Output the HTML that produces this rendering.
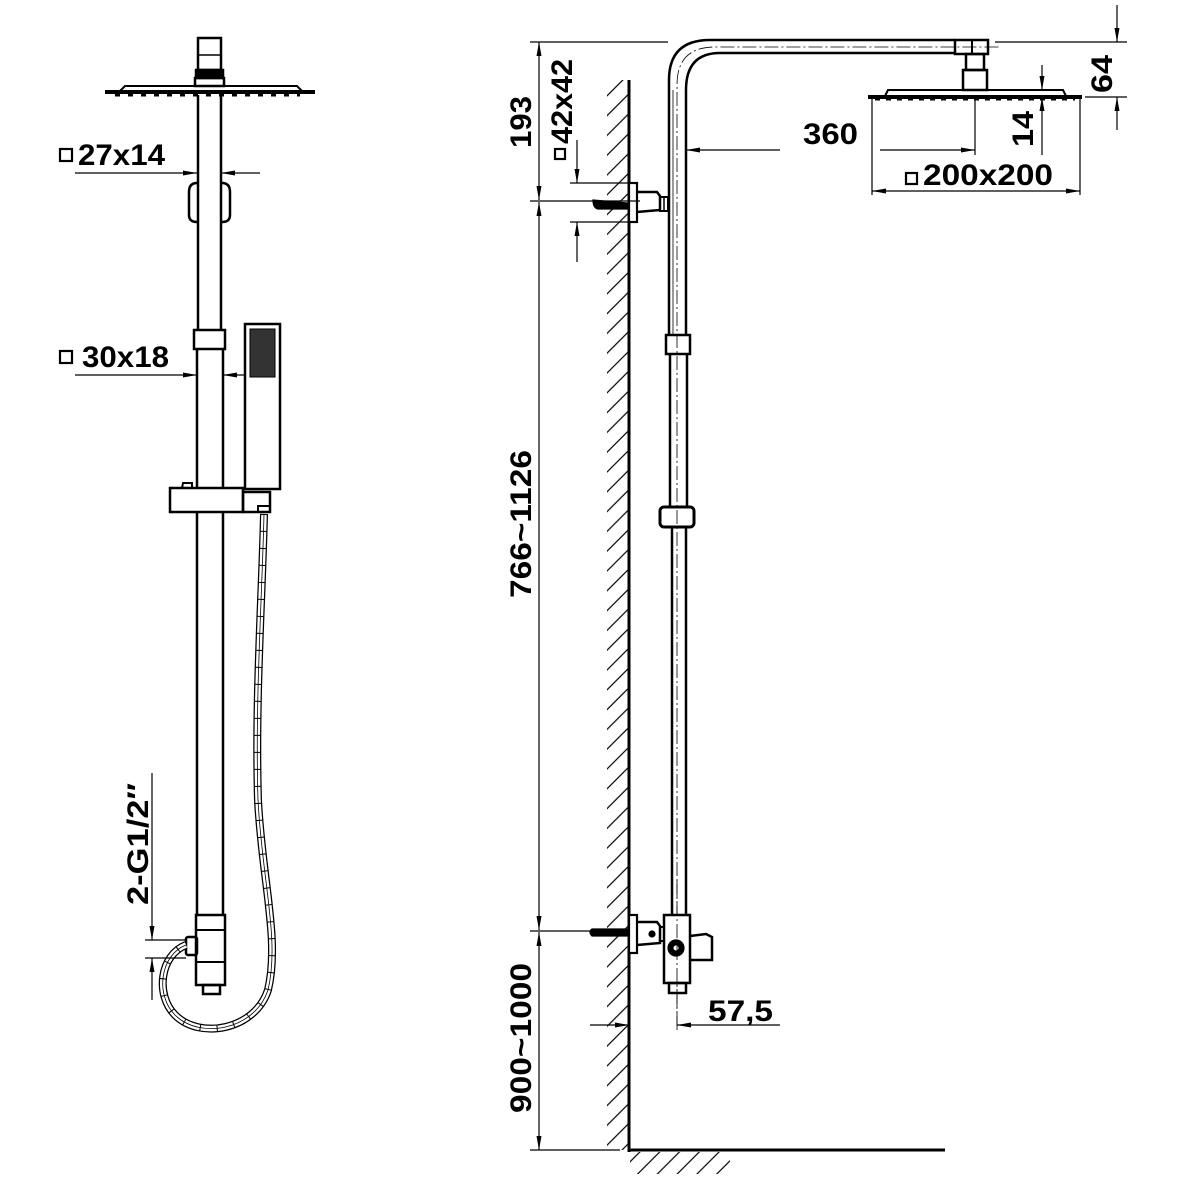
<!DOCTYPE html>
<html><head><meta charset="utf-8"><style>
html,body{margin:0;padding:0;background:#fff}
svg{display:block}
text{font-family:"Liberation Sans",sans-serif;font-weight:bold;fill:#000}
</style></head><body>
<svg width="1182" height="1182" viewBox="0 0 1182 1182" xmlns="http://www.w3.org/2000/svg">
<defs>
<marker id="a" markerWidth="14" markerHeight="8" refX="14" refY="4" orient="auto" markerUnits="userSpaceOnUse"><path d="M0,1.5 L14,4 L0,6.5Z" fill="#000"/></marker>
<pattern id="hv" width="14" height="14" patternUnits="userSpaceOnUse" patternTransform="rotate(-45)"><path d="M0,7 L14,7" stroke="#000" stroke-width="1.2"/></pattern>
</defs>
<g stroke="#000" fill="none" stroke-width="1.2">

<rect x="198" y="38" width="23" height="32" stroke-width="2.5"/>
<line x1="198" y1="55" x2="221" y2="55" stroke-width="1.5"/>
<rect x="196" y="70" width="27" height="8" stroke-width="2.5" fill="#000"/>
<rect x="195" y="78" width="29" height="8" stroke-width="2.5"/>
<path d="M105,92 L315,92" stroke-width="4"/>
<path d="M120,91 L125,86 L297,86 L302,91" stroke-width="2"/>
<path d="M115,95 L300,95" stroke="#000" stroke-width="3" stroke-dasharray="5 8"/>
<line x1="198" y1="95" x2="198" y2="330" stroke-width="2.5"/>
<line x1="221" y1="95" x2="221" y2="330" stroke-width="2.5"/>
<path d="M197,183 Q189,183 189,192 L189,215 Q189,222 197,222" stroke-width="2.5"/>
<path d="M222,183 Q230,183 230,192 L230,215 Q230,222 222,222" stroke-width="2.5"/>
<rect x="194" y="330" width="31" height="19" stroke-width="2.5"/>
<line x1="197" y1="349" x2="197" y2="488" stroke-width="2.5"/>
<line x1="223" y1="349" x2="223" y2="488" stroke-width="2.5"/>
<rect x="245" y="324" width="35" height="165" stroke-width="2.5"/>
<rect x="250" y="329" width="25" height="48" fill="#333" stroke-width="1"/>
<rect x="170" y="488" width="73" height="24" stroke-width="2.5"/>
<rect x="243" y="492" width="27" height="20" stroke-width="2.5"/>
<path d="M182,488 L183,483 L192,483 L192,488" stroke-width="2"/>
<rect x="258" y="506" width="12" height="6" stroke-width="2"/>
<line x1="197" y1="512" x2="197" y2="915" stroke-width="2.5"/>
<line x1="223" y1="512" x2="223" y2="915" stroke-width="2.5"/>
<rect x="196" y="915" width="29" height="70" stroke-width="2.5"/>
<line x1="196" y1="930" x2="225" y2="930" stroke-width="2"/>
<line x1="196" y1="962" x2="225" y2="962" stroke-width="2"/>
<rect x="186" y="937" width="11" height="18" stroke-width="2.5" rx="2"/>
<rect x="203" y="985" width="17" height="9" stroke-width="2.5"/>
<path d="M264,514 C262,600 255,700 258,800 C262,880 280,940 268,990 C255,1030 200,1040 175,1015 C155,995 160,955 186,945" stroke-width="8"/>
<path d="M264,514 C262,600 255,700 258,800 C262,880 280,940 268,990 C255,1030 200,1040 175,1015 C155,995 160,955 186,945" stroke="#fff" stroke-width="5.5"/>
<path d="M264,514 C262,600 255,700 258,800 C262,880 280,940 268,990 C255,1030 200,1040 175,1015 C155,995 160,955 186,945" stroke-width="7" stroke-dasharray="1 16"/>
<path d="M264,514 C262,600 255,700 258,800 C262,880 280,940 268,990 C255,1030 200,1040 175,1015 C155,995 160,955 186,945" stroke-width="0.8"/>

<line x1="75" y1="173" x2="197" y2="173" marker-end="url(#a)"/>
<line x1="260" y1="173" x2="221" y2="173" marker-end="url(#a)"/>
<line x1="75" y1="375" x2="197" y2="375" marker-end="url(#a)"/>
<line x1="245" y1="375" x2="223" y2="375" marker-end="url(#a)"/>
<line x1="152" y1="773" x2="152" y2="940" marker-end="url(#a)"/>
<line x1="152" y1="1000" x2="152" y2="958" marker-end="url(#a)"/>
<line x1="145" y1="940" x2="186" y2="940"/>
<line x1="145" y1="958" x2="186" y2="958"/>
<rect x="60" y="149" width="12" height="12" stroke-width="2.2"/>
<rect x="60" y="351" width="12" height="12" stroke-width="2.2"/>

<rect x="607" y="80" width="22" height="1070" fill="url(#hv)" stroke="none"/>
<line x1="629" y1="80" x2="629" y2="1152" stroke-width="3"/>
<line x1="629" y1="1150" x2="945" y2="1150" stroke-width="3"/>
<rect x="630" y="1152" width="100" height="22" fill="url(#hv)" stroke="none"/>
<path d="M669,335 L669,80 Q669,40 710,40 L955,40" stroke-width="2.5"/>
<path d="M686,335 L686,90 Q686,53 720,53 L955,53" stroke-width="2.5"/>
<path d="M677,1030 L677,85 Q677,47 715,47 L1000,47" stroke-width="0.8" stroke-dasharray="14 3 2 3"/>
<line x1="673" y1="90" x2="673" y2="335" stroke-width="0.8"/>
<rect x="955" y="40" width="33" height="14" stroke-width="2.5"/>
<line x1="972" y1="40" x2="972" y2="54" stroke-width="2"/>
<rect x="966" y="54" width="18" height="16" stroke-width="2.5"/>
<rect x="963" y="70" width="24" height="20" stroke-width="2.5"/>
<path d="M868,97 L1082,97" stroke-width="4"/>
<path d="M885,96 L888,90 L1063,90 L1066,96" stroke-width="2"/>
<path d="M875,99 L1075,99" stroke-width="3" stroke-dasharray="5 6"/>
<rect x="666" y="335" width="24" height="19" stroke-width="2.5"/>
<line x1="670" y1="354" x2="670" y2="508" stroke-width="2.5"/>
<line x1="687" y1="354" x2="687" y2="508" stroke-width="2.5"/>
<rect x="660" y="507" width="34" height="20" rx="4" stroke-width="3"/>
<line x1="672" y1="527" x2="672" y2="915" stroke-width="2.5"/>
<line x1="686" y1="527" x2="686" y2="915" stroke-width="2.5"/>
<rect x="629" y="183" width="8" height="39" stroke-width="2.2" fill="#fff"/>
<path d="M637,192 L657,192 L660,196 L660,210 L637,212" stroke-width="2.5"/>
<rect x="660" y="197" width="8" height="14" stroke-width="2"/>
<line x1="664" y1="197" x2="664" y2="211" stroke-width="1.5"/>
<path d="M593,200 L628,203 L628,209 L598,209 Q593,208 593,200Z" fill="#000"/>
<rect x="629" y="915" width="8" height="38" stroke-width="2.2" fill="#fff"/>
<path d="M637,922 L657,922 L660,926 L660,943 L637,945" stroke-width="2.5"/>
<rect x="660" y="927" width="5" height="14" stroke-width="2"/>
<path d="M592,929 L628,929 L628,936 L592,936 Q588,932 592,929Z" fill="#000"/>
<circle cx="652" cy="934" r="3" fill="#000"/>
<rect x="664" y="915" width="26" height="68" stroke-width="2.5" fill="#fff"/>
<path d="M690,936 L706,934 L712,937 L712,960 L690,960" stroke-width="2.5"/>
<circle cx="676" cy="948" r="8" fill="#000"/>
<circle cx="676" cy="948" r="2.5" fill="#fff" stroke="none"/>
<rect x="669" y="983" width="17" height="10" stroke-width="2.5"/>
<line x1="677" y1="880" x2="677" y2="1030" stroke-width="0.8" stroke-dasharray="14 3 2 3"/>

<line x1="539" y1="120" x2="539" y2="42" marker-end="url(#a)"/>
<line x1="539" y1="120" x2="539" y2="200" marker-end="url(#a)"/>
<line x1="539" y1="560" x2="539" y2="202" marker-end="url(#a)"/>
<line x1="539" y1="560" x2="539" y2="930" marker-end="url(#a)"/>
<line x1="539" y1="1040" x2="539" y2="932" marker-end="url(#a)"/>
<line x1="539" y1="1040" x2="539" y2="1150" marker-end="url(#a)"/>
<line x1="530" y1="42" x2="668" y2="42"/>
<line x1="530" y1="201" x2="640" y2="201"/>
<line x1="530" y1="931" x2="600" y2="931"/>
<line x1="530" y1="1150" x2="620" y2="1150"/>
<line x1="577" y1="140" x2="577" y2="183" marker-end="url(#a)"/>
<line x1="577" y1="262" x2="577" y2="222" marker-end="url(#a)"/>
<line x1="570" y1="183" x2="632" y2="183"/>
<line x1="570" y1="222" x2="632" y2="222"/>
<rect x="555" y="149" width="10" height="10" stroke-width="2.2"/>
<line x1="780" y1="150" x2="686" y2="150" marker-end="url(#a)"/>
<line x1="880" y1="150" x2="975" y2="150" marker-end="url(#a)"/>
<line x1="975" y1="97" x2="975" y2="155"/>
<line x1="872" y1="98" x2="872" y2="195"/>
<line x1="1080" y1="98" x2="1080" y2="195"/>
<line x1="975" y1="191" x2="872" y2="191" marker-end="url(#a)"/>
<line x1="975" y1="191" x2="1080" y2="191" marker-end="url(#a)"/>
<rect x="906" y="173" width="11" height="11" stroke-width="2.2"/>
<line x1="1042" y1="65" x2="1042" y2="90" marker-end="url(#a)"/>
<line x1="1042" y1="155" x2="1042" y2="97" marker-end="url(#a)"/>
<line x1="1117" y1="5" x2="1117" y2="42" marker-end="url(#a)"/>
<line x1="1117" y1="130" x2="1117" y2="97" marker-end="url(#a)"/>
<line x1="995" y1="42" x2="1127" y2="42"/>
<line x1="1085" y1="97" x2="1127" y2="97"/>
<line x1="590" y1="1025" x2="629" y2="1025" marker-end="url(#a)"/>
<line x1="780" y1="1025" x2="677" y2="1025" marker-end="url(#a)"/>
</g>

<g font-size="30">
<text x="78" y="165" textLength="87" lengthAdjust="spacingAndGlyphs">27x14</text>
<text x="82" y="367" textLength="87" lengthAdjust="spacingAndGlyphs">30x18</text>
<text transform="translate(148,905) rotate(-90)" textLength="122" lengthAdjust="spacingAndGlyphs">2-G1/2″</text>
<text transform="translate(531,148) rotate(-90)" textLength="52" lengthAdjust="spacingAndGlyphs">193</text>
<text transform="translate(572,144) rotate(-90)" textLength="85" lengthAdjust="spacingAndGlyphs">42x42</text>
<text transform="translate(531,598) rotate(-90)" textLength="148" lengthAdjust="spacingAndGlyphs">766~1126</text>
<text transform="translate(531,1113) rotate(-90)" textLength="150" lengthAdjust="spacingAndGlyphs">900~1000</text>
<text x="803" y="144" textLength="55" lengthAdjust="spacingAndGlyphs">360</text>
<text x="923" y="185" textLength="130" lengthAdjust="spacingAndGlyphs">200x200</text>
<text transform="translate(1033,147) rotate(-90)" textLength="36" lengthAdjust="spacingAndGlyphs">14</text>
<text transform="translate(1112,93) rotate(-90)" textLength="38" lengthAdjust="spacingAndGlyphs">64</text>
<text x="708" y="1021" textLength="65" lengthAdjust="spacingAndGlyphs">57,5</text>
</g>
</svg>
</body></html>
